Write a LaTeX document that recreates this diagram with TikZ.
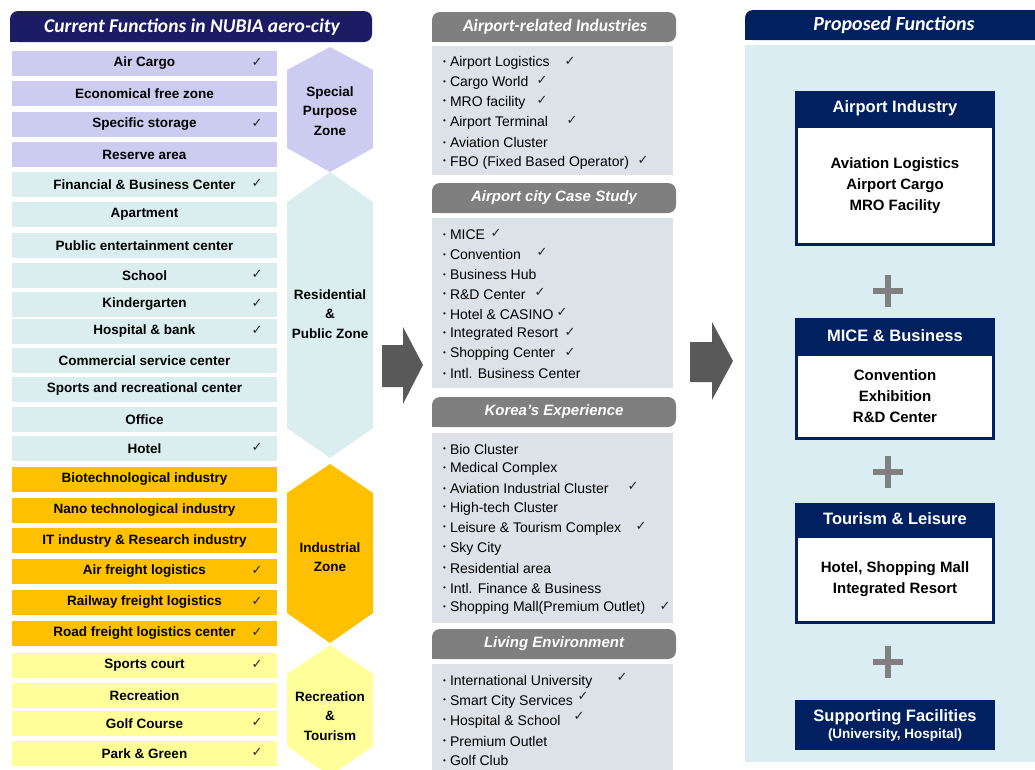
\documentclass[tikz,border=0pt]{standalone}
\usepackage{fontspec}
\setmainfont{Liberation Sans}
\newfontfamily\calib{Carlito}
\newfontfamily\symfont{DejaVu Sans}
\usetikzlibrary{positioning}

\definecolor{navyA}{HTML}{1C1C64}
\definecolor{navyB}{HTML}{002060}
\definecolor{lavender}{HTML}{CCCCF0}
\definecolor{paleteal}{HTML}{DAEEF0}
\definecolor{gold}{HTML}{FFC000}
\definecolor{paleyellow}{HTML}{FFFF99}
\definecolor{tabgrey}{HTML}{7F7F7F}
\definecolor{boxgrey}{HTML}{DDE2E9}
\definecolor{skyback}{HTML}{DAEDF3}
\definecolor{arrowgrey}{HTML}{595959}
\definecolor{plusgrey}{HTML}{808080}

\newcommand{\chkmark}{{\symfont\fontsize{13}{13}\selectfont ✓}}
\newcommand{\bul}{\raisebox{2.5pt}{\fontsize{8}{8}\selectfont\textbullet}\hspace{4pt}}

\begin{document}
\begin{tikzpicture}[x=1pt,y=-1pt,
    row/.style={minimum width=265pt, minimum height=25pt, inner sep=0pt,
      font=\bfseries\fontsize{13.5}{15}\selectfont},
    tick/.style={inner sep=0pt, text=black!85},
    hextext/.style={align=center, font=\bfseries\fontsize{13.5}{19.5}\selectfont},
    item/.style={anchor=west, inner sep=0pt, font=\fontsize{14}{16}\selectfont},
    tabtext/.style={text=white, font=\bfseries\itshape\fontsize{15}{17}\selectfont},
    greybox/.style={fill=boxgrey, minimum width=241pt, inner sep=0pt},
    ptitle/.style={fill=navyB, text=white, minimum width=200pt, inner sep=0pt,
      font=\bfseries\fontsize{16.5}{19}\selectfont},
    pbody/.style={draw=navyB, line width=2.5pt, fill=white, minimum width=197pt,
      inner sep=0pt, align=center, font=\bfseries\fontsize{15}{21}\selectfont},
    plus/.style={plusgrey, line width=6.5pt}]
\useasboundingbox (0,0) rectangle (1035,769);

% left header
\fill[navyA, rounded corners=8pt] (10,11) rectangle (372,42);
\fill[navyA] (10,30) rectangle (22,42);
\node[text=white, font=\calib\bfseries\itshape\fontsize{19.5}{21}\selectfont] (curr) at (192,27)
  {Current Functions in NUBIA aero-city};

% current function rows
\foreach \t/\top/\c/\col [count=\k] in {
    Air Cargo/51/1/lavender, Economical free zone/81/0/lavender,
    Specific storage/112/1/lavender, Reserve area/142/0/lavender,
    Financial \& Business Center/172/1/paleteal, Apartment/202/0/paleteal,
    Public entertainment center/233/0/paleteal, School/263/1/paleteal,
    Kindergarten/292/1/paleteal, Hospital \& bank/319/1/paleteal,
    Commercial service center/348/0/paleteal, Sports and recreational center/377/0/paleteal,
    Office/407/0/paleteal, Hotel/436/1/paleteal,
    Biotechnological industry/467/0/gold, Nano technological industry/498/0/gold,
    IT industry \& Research industry/528/0/gold, Air freight logistics/559/1/gold,
    Railway freight logistics/590/1/gold, Road freight logistics center/621/1/gold,
    Sports court/653/1/paleyellow, Recreation/683/0/paleyellow,
    Golf Course/711/1/paleyellow, Park \& Green/741/1/paleyellow} {
  \node[row, fill=\col] (row\k) at (144.5,\top+12.5) {\t};
  \ifnum\c=1 \node[tick] (rt\k) at (257,\top+11) {\chkmark}; \fi
}

% zone hexagons
\fill[lavender] (330,47) -- (373,70) -- (373,148) -- (330,172) -- (287,148) -- (287,70) -- cycle;
\fill[paleteal] (330,172) -- (373,202) -- (373,428) -- (330,458) -- (287,428) -- (287,202) -- cycle;
\fill[gold] (330,464) -- (373,493) -- (373,613) -- (330,643) -- (287,613) -- (287,493) -- cycle;
\fill[paleyellow] (330,645) -- (373,674) -- (373,746) -- (330,776) -- (287,746) -- (287,674) -- cycle;
\node[hextext] (zspecial) at (330,111) {Special\\Purpose\\Zone};
\node[hextext] (zresid) at (330,314) {Residential\\\&\\Public Zone};
\node[hextext] (zindus) at (330,557) {Industrial\\Zone};
\node[hextext] (zrecre) at (330,716) {Recreation\\\&\\Tourism};

% arrows
\coordinate (arrA) at (382,345);
\fill[arrowgrey] (arrA) -- ++(21,0) -- ++(0,-18) -- ++(20,38) -- ++(-20,39) -- ++(0,-17) -- ++(-21,0) -- cycle;
\coordinate (arrB) at (690,342);
\fill[arrowgrey] (arrB) -- ++(22,0) -- ++(0,-20) -- ++(21,39) -- ++(-21,39) -- ++(0,-18) -- ++(-22,0) -- cycle;

% middle tabs and boxes
\foreach \top/\name/\txt in {12/tabA/{}, 183/tabB/Airport city Case Study,
    397/tabC/Korea's Experience, 629/tabD/Living Environment} {
  \fill[tabgrey, rounded corners=8pt] (432,\top) rectangle (676,\top+30);
  \fill[tabgrey] (432,\top+18) rectangle (444,\top+30);
  \node[tabtext] (\name) at (554,\top+15) {\txt};
}
\node[tabtext, font=\calib\bfseries\itshape\fontsize{17.5}{19}\selectfont] (tabAtxt) at (555,27)
  {Airport-related Industries};
\node[greybox, minimum height=129pt] (boxA) at (552.5,110.5) {};
\node[greybox, minimum height=170pt] (boxB) at (552.5,303) {};
\node[greybox, minimum height=190pt] (boxC) at (552.5,528) {};
\node[greybox, minimum height=111pt] (boxD) at (552.5,719.5) {};

\foreach \t/\c [count=\k from 0] in {Airport Logistics/570, Cargo World/542, MRO facility/542,
    Airport Terminal/572, Aviation Cluster/0, FBO (Fixed Based Operator)/643} {
  \node[item] (ia\k) at (443,63+19.9*\k) {\bul\t};
  \ifnum\c>0 \node[tick] (ta\k) at (\c,61+19.9*\k) {\chkmark}; \fi
}
\foreach \t/\c [count=\k from 0] in {MICE/496, Convention/542, Business Hub/0, R\&D Center/540,
    Hotel \& CASINO/562, Integrated Resort/570, Shopping Center/570, Intl. Business Center/0} {
  \node[item] (ib\k) at (443,235+19.85*\k) {\bul\t};
  \ifnum\c>0 \node[tick] (tb\k) at (\c,233+19.85*\k) {\chkmark}; \fi
}
\foreach \t/\c [count=\k from 0] in {Bio Cluster/0, Medical Complex/0,
    Aviation Industrial Cluster/633, High-tech Cluster/0, Leisure \& Tourism Complex/641,
    Sky City/0, Residential area/0, Intl. Finance \& Business/0,
    Shopping Mall(Premium Outlet)/665} {
  \node[item] (ic\k) at (443,449+19.9*\k) {\bul\t};
  \ifnum\c>0 \node[tick] (tc\k) at (\c,447+19.9*\k) {\chkmark}; \fi
}
\foreach \t/\c [count=\k from 0] in {International University/622, Smart City Services/583,
    Hospital \& School/579, Premium Outlet/0, Golf Club/0} {
  \node[item] (id\k) at (443,682+19.7*\k) {\bul\t};
  \ifnum\c>0 \node[tick] (td\k) at (\c,677+19.7*\k) {\chkmark}; \fi
}

% proposed functions
\fill[navyB, rounded corners=8pt] (745,10) rectangle (1050,40);
\fill[navyB] (745,28) rectangle (757,40);
\node[text=white, font=\calib\bfseries\itshape\fontsize{20}{22}\selectfont] (prop) at (894,25)
  {Proposed Functions};
\node[fill=skyback, minimum width=290pt, minimum height=717pt, inner sep=0pt] (propback) at (890,403.5) {};

\node[ptitle, minimum height=34pt] (airT) at (895,108) {Airport Industry};
\node[pbody, minimum height=118pt, below=0pt of airT] (airB)
  {Aviation Logistics\\Airport Cargo\\MRO Facility};
\node[ptitle, minimum height=35pt] (miceT) at (895,335.5) {MICE \& Business};
\node[pbody, minimum height=84pt, below=0pt of miceT] (miceB)
  {Convention\\Exhibition\\R\&D Center};
\node[ptitle, minimum height=32pt] (tourT) at (895,519) {Tourism \& Leisure};
\node[pbody, minimum height=86pt, below=0pt of tourT] (tourB)
  {Hotel, Shopping Mall\\Integrated Resort};
\node[ptitle, minimum height=50pt, align=center] (suppT) at (895,725)
  {Supporting Facilities\\[-2pt]{\fontsize{13.5}{15}\selectfont(University, Hospital)}};

\foreach \p/\y in {plA/291, plB/472, plC/662} {
  \coordinate (\p) at (888,\y);
  \draw[plus] ([xshift=-15pt]\p) -- ([xshift=15pt]\p);
  \draw[plus] ([yshift=-16pt]\p) -- ([yshift=16pt]\p);
}
\end{tikzpicture}
\end{document}
